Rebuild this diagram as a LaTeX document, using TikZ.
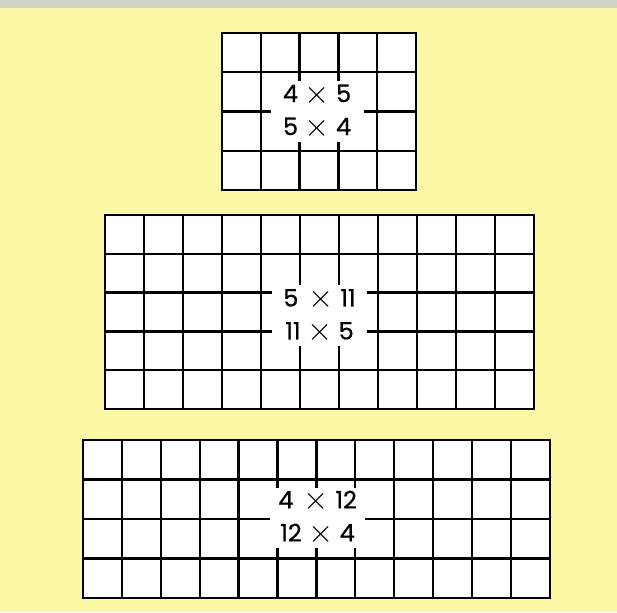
\documentclass[tikz,border=0pt]{standalone}
\usepackage{fontspec}
\setmainfont{Poppins}[FakeBold=0.7]
\usepackage{graphicx}
\usepackage{xcolor}
\definecolor{padyellow}{RGB}{252,248,165}
\definecolor{padgray}{RGB}{208,210,196}
\newcommand{\bigx}{\raisebox{-1pt}{\scalebox{1.3}{$\times$}}}
\tikzset{
  cellgrid/.style={draw=black, line width=2.3pt, fill=white, step=1},
  prodlbl/.style={fill=white, align=center, inner sep=0pt, font=\fontsize{24}{33}\selectfont, minimum width=93pt, minimum height=61pt}
}

\begin{document}
\begin{tikzpicture}[x=1pt,y=1pt]
\fill[padyellow] (0,0) rectangle (617,612);
\fill[padgray] (0,604) rectangle (617,612);
\useasboundingbox (0,0) rectangle (617,612);
% 5 by 4
\begin{scope}[shift={(222,422)}, x=38.8pt, y=39.25pt]
\draw[cellgrid] (0,0) rectangle (5,4) (0,0) grid (5,4);
\node[prodlbl] (lbl1) at (2.45,2) {4 \bigx{} 5\\5 \bigx{} 4};
\end{scope}
% 11 by 5
\begin{scope}[shift={(105,203)}, x=39pt, y=38.8pt]
\draw[cellgrid] (0,0) rectangle (11,5) (0,0) grid (11,5);
\node[prodlbl, minimum width=95pt] (lbl2) at (5.5,2.4) {5 \,\bigx{} 11\\11 \bigx{} 5};
\end{scope}
% 12 by 4
\begin{scope}[shift={(83,14)}, x=38.9pt, y=39.5pt]
\draw[cellgrid] (0,0) rectangle (12,4) (0,0) grid (12,4);
\node[prodlbl, minimum width=95pt, minimum height=60pt] (lbl3) at (6.03,2.03) {4 \,\bigx{} 12\\12 \bigx{} 4};
\end{scope}
\end{tikzpicture}
\end{document}
